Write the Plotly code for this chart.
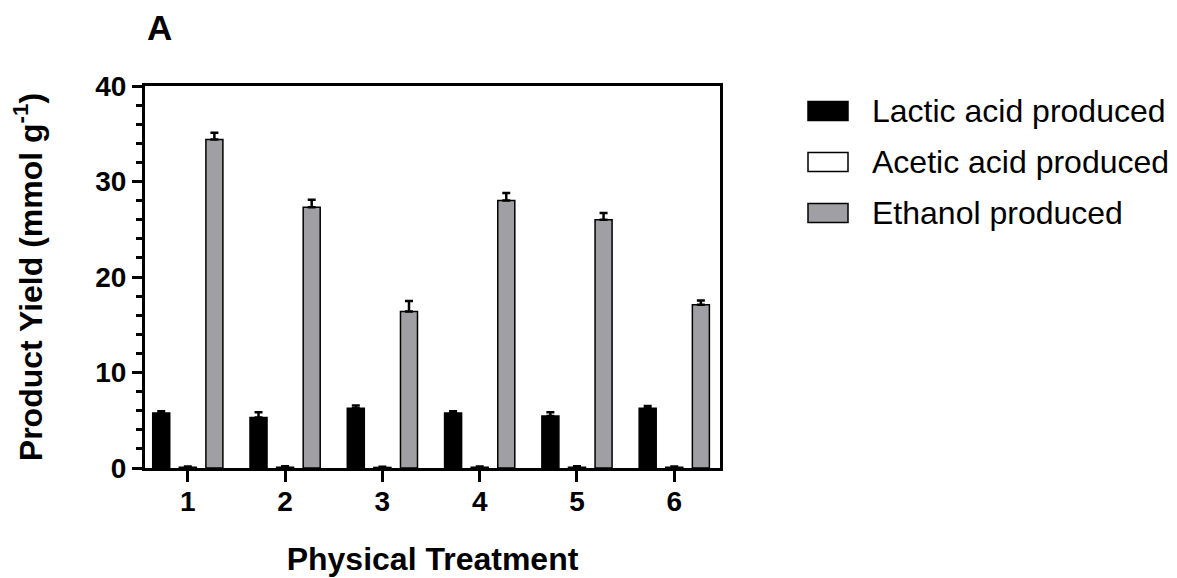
import plotly.graph_objects as go

# ---- data ----
treatments = [1, 2, 3, 4, 5, 6]
tick_labels = ["1", "2", "3", "4", "5", "6"]
series_names = ["Lactic acid produced", "Acetic acid produced", "Ethanol produced"]
lactic = [5.75, 5.3, 6.25, 5.75, 5.45, 6.25]
lactic_err = [0.2, 0.55, 0.3, 0.2, 0.4, 0.25]
acetic = [0.08, 0.08, 0.06, 0.08, 0.08, 0.08]
acetic_err = [0.08, 0.1, 0.06, 0.08, 0.1, 0.08]
ethanol = [34.4, 27.3, 16.4, 28.0, 26.0, 17.1]
ethanol_err = [0.7, 0.8, 1.1, 0.8, 0.7, 0.45]
y_ticks = [0, 10, 20, 30, 40]

# ---- styling / layout constants ----
W, H = 1177, 578
L, R, T, B = 145, 720, 86, 468
FONT = "Liberation Sans, Arial, sans-serif"
colors = ["#000000", "#ffffff", "#a0a0a4"]

def px2x(px):
    return (px - L) / (R - L)

def py2y(py):
    return (B - py) / (B - T)

fig = go.Figure()
for name, vals, errs, col in zip(series_names, [lactic, acetic, ethanol],
                                 [lactic_err, acetic_err, ethanol_err], colors):
    fig.add_trace(go.Bar(
        x=treatments, y=vals, name=name,
        marker=dict(color=col, line=dict(color="black", width=1.5)),
        error_y=dict(type="data", symmetric=False, array=errs,
                     arrayminus=[0] * len(errs), color="black",
                     thickness=2.5, width=4),
        showlegend=False,
    ))

fig.update_layout(
    width=W, height=H,
    margin=dict(l=L, r=W - R, t=T, b=H - B, pad=0, autoexpand=False),
    paper_bgcolor="white", plot_bgcolor="white",
    barmode="group", bargap=0.18, bargroupgap=0.36,
    font=dict(family=FONT, color="black"),
)

fig.update_xaxes(
    range=[0.56, 6.47], tickmode="array", tickvals=treatments, ticktext=tick_labels,
    automargin=False,
    showgrid=False, zeroline=False, showline=True, linecolor="black", linewidth=3,
    mirror=True, ticks="outside", ticklen=11, tickwidth=3, tickcolor="black",
    ticklabelstandoff=-5,
    tickfont=dict(family=FONT, size=28, weight="bold"),
    title=dict(text="Physical Treatment", standoff=33,
               font=dict(family=FONT, size=32, weight="bold")),
)
fig.update_yaxes(
    range=[0, 40], tickmode="array", tickvals=y_ticks,
    automargin=False,
    showgrid=False, zeroline=False, showline=True, linecolor="black", linewidth=3,
    mirror=True, ticks="outside", ticklen=10, tickwidth=3, tickcolor="black",
    minor=dict(dtick=2, ticks="outside", ticklen=6, tickwidth=2.5, tickcolor="black", showgrid=False),
    tickfont=dict(family=FONT, size=28, weight="bold"),
    title=dict(text="Product Yield (mmol g<sup>-1</sup>)", standoff=44,
               font=dict(family=FONT, size=32, weight="bold")),
)

# panel label
fig.add_annotation(text="<b>A</b>", xref="paper", yref="paper",
                   x=px2x(145), y=py2y(27), xanchor="left", yanchor="middle",
                   showarrow=False, font=dict(family=FONT, size=35, color="black"))

# custom legend (wide swatches as in the reference)
legend_rows = [111, 162, 213]
for name, col, cy in zip(series_names, colors, legend_rows):
    fig.add_shape(type="rect", xref="paper", yref="paper",
                  x0=px2x(808), x1=px2x(848), y0=py2y(cy + 9.5), y1=py2y(cy - 9.5),
                  fillcolor=col, line=dict(color="black", width=1.5))
    fig.add_annotation(text=name, xref="paper", yref="paper",
                       x=px2x(870), y=py2y(cy), xanchor="left", yanchor="middle",
                       showarrow=False, font=dict(family=FONT, size=32, color="black"))

fig.write_html("out.html")
